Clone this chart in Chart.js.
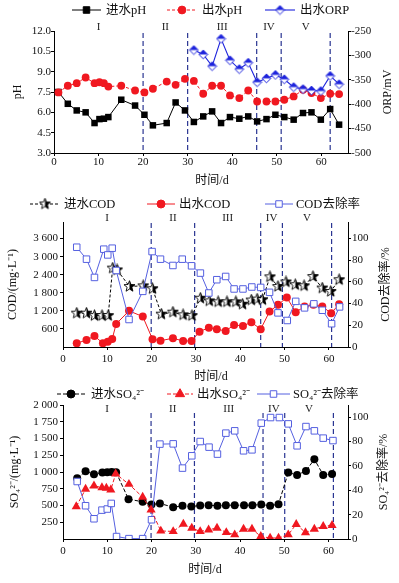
<!DOCTYPE html>
<html>
<head>
<meta charset="utf-8">
<script src="https://cdn.jsdelivr.net/npm/chart.js@4.4.0/dist/chart.umd.min.js"></script>
<style>
  body { margin:0; background:#fff; width:399px; height:583px; overflow:hidden; position:relative; }
  .box { position:absolute; left:0; width:399px; }
</style>
</head>
<body>
<div class="box" style="top:0;height:190px"><canvas id="chartPH"></canvas></div>
<div class="box" style="top:190px;height:195px"><canvas id="chartCOD"></canvas></div>
<div class="box" style="top:385px;height:198px"><canvas id="chartSO4"></canvas></div>
<script>
// ── data: pH / ORP ──
const phDays  = [1,3.1,5.1,7.1,9.1,10.2,11.2,12.2,15.1,18.2,20.3,22.2,25.3,27.3,29.4,31.4,33.5,35.5,37.5,39.5,41.6,43.6,45.6,47.7,49.7,51.7,53.8,55.9,57.8,59.9,62,64];
const inPH    = [7.5,6.63,6.14,6.0,5.21,5.5,5.53,5.65,6.93,6.5,5.82,5.04,5.21,6.73,6.14,5.29,5.7,6.07,5.21,5.65,5.53,5.7,5.33,5.5,5.82,5.65,5.46,5.95,6.0,5.46,6.24,5.09];
const outPH   = [7.47,7.96,8.15,8.57,8.15,8.22,8.15,7.9,7.96,7.61,7.47,7.74,8.27,8.03,8.47,8.32,7.37,7.96,7.96,7.25,7.05,7.61,6.8,6.8,6.8,6.93,7.17,7.66,7.42,7.05,7.37,7.35];
const orpDays = [31.4,33.5,35.5,37.5,39.5,41.6,43.6,45.6,47.7,49.7,51.7,53.8,55.9,57.8,59.9,62,64];
const outORP  = [-289,-298,-322,-266,-310,-328,-315,-355,-347,-340,-349,-365,-369,-372,-373,-342,-359];
const phTicks  = [3,4.5,6,7.5,9,10.5,12];
const orpTicks = [-500,-450,-400,-350,-300,-250];

// ── data: COD ──
const codInDays  = [3.1,5.3,7.1,8.8,10.2,11.2,12.2,15,18.1,20.2,22.2,24.8,27.1,29.1,31,33,35,37,39,40.5,42.5,43.8,45,46.7,48.5,50.3,52.4,54.4,56.4,58.5,60.4,62.3];
const codIn      = [1123,1123,1043,1043,1043,2620,2560,2010,2030,1935,1090,1157,1067,1043,1620,1530,1500,1500,1500,1420,1560,1590,1570,2330,2010,2160,2067,2033,2340,1957,1843,2233];
const codOutDays = [3.1,5.3,7.1,9.0,10.1,11.1,12.0,14.9,18.0,20.2,22.0,24.8,27.1,29.0,30.8,32.9,34.7,36.7,38.6,40.6,42.5,44.6,46.6,48.5,50.5,52.5,54.5,56.5,58.5,60.5,62.3];
const codOut     = [123,233,367,123,177,267,767,1200,1010,257,210,290,200,200,510,643,590,533,733,700,823,590,1177,1400,1643,1157,1343,1400,1343,1123,1423];
const codRmDays  = [3.1,5.3,7.1,9.2,10.1,11.1,12.0,14.9,18.0,20.1,22.0,24.8,26.9,29.0,31.0,32.9,34.7,36.7,38.6,40.6,42.6,44.6,46.6,48.5,50.6,52.5,54.5,56.6,58.5,60.6,62.4];
const codRemoval = [91.8,80.8,64,90,84.7,90.9,70.4,25.3,51.2,87.8,80.8,75,80.8,74.7,68,49.7,61.9,64.9,53.4,53.4,55.2,54.8,50.3,31.4,24.4,42,36,39.7,33.8,21.4,36.9];
const codTicks   = [600,1200,1800,2400,3000,3600];
const pctTicks   = [0,20,40,60,80,100];

// ── data: SO4 ──
const soInDays   = [3.2,5.1,7.0,8.9,10.0,11.0,12.0,14.8,18.0,20.0,21.9,24.9,27.0,29.0,31.0,32.9,34.9,36.8,38.8,40.9,42.8,44.8,46.8,48.7,50.9,52.9,54.9,56.8,58.8,60.8];
const soIn       = [905,1010,967,991,995,1000,995,595,555,515,530,475,495,485,500,505,495,505,505,505,505,515,495,520,991,957,1016,1190,957,972];
const soOutDays  = [3.0,5.1,7.0,8.8,9.8,10.8,11.9,14.9,18.0,19.9,22.1,24.9,27.2,29.1,31.0,32.9,34.8,36.9,38.8,40.8,42.7,44.7,46.8,48.7,50.9,52.7,54.8,56.8,58.8,60.8];
const soOut      = [485,744,793,768,759,734,972,818,625,436,120,113,223,164,113,138,164,98,64,149,149,39,15,15,64,220,95,149,188,205];
const soRmDays   = [3.2,5.1,7.0,8.8,10.0,10.9,12.1,14.9,18.0,20.0,21.9,24.9,27.0,29.1,31.0,33.0,34.9,36.8,38.8,40.8,42.7,44.8,46.9,48.9,50.9,52.9,54.9,56.8,58.8,61.0];
const soRemoval  = [47.2,27.3,16.6,23.7,24.6,29.2,2,0.3,0.3,15.8,77.9,78.1,58.2,68.3,80,75.4,69.7,86.9,88.8,72.4,73.2,95.1,99.7,99.7,94.5,76.5,92.3,88.8,82.8,80.8];
const soTicks    = [250,500,750,1000,1250,1500,1750,2000];

// shared
const dayTicks   = [0,10,20,30,40,50,60];
const stageNames = ['I','II','III','IV','V'];

const FONT  = '"Liberation Serif","Noto Sans CJK SC",serif';
const RED   = '#f01820', BLUE = '#1c22dc', LBLUE = '#5560e0', NAVY = '#2a3592';

// ── custom markers ──
function makeMarker(size, draw) {
  const c = document.createElement('canvas');
  c.width = c.height = size;
  draw(c.getContext('2d'), size / 2, size);
  return c;
}
const halfDiamond = makeMarker(11, (g, m, s) => {
  const r = 4.4;
  g.beginPath(); g.moveTo(m, m - r); g.lineTo(m + r, m); g.lineTo(m, m + r); g.lineTo(m - r, m); g.closePath();
  g.fillStyle = '#fff'; g.fill();
  g.save(); g.clip(); g.fillStyle = BLUE; g.fillRect(0, 0, s, m); g.restore();
  g.strokeStyle = BLUE; g.lineWidth = 1; g.stroke();
});
const halfStar = makeMarker(13, (g, m, s) => {
  g.beginPath();
  for (let i = 0; i < 10; i++) {
    const r = i % 2 ? 2.5 : 5.8, a = -Math.PI / 2 + i * Math.PI / 5;
    g.lineTo(m + r * Math.cos(a), m + r * Math.sin(a));
  }
  g.closePath();
  g.fillStyle = '#fff'; g.fill();
  g.save(); g.clip(); g.fillStyle = '#000'; g.fillRect(m, 0, m, s); g.restore();
  g.strokeStyle = '#000'; g.lineWidth = 0.9; g.stroke();
});

const pts = (xs, ys) => xs.map((x, i) => ({x, y: ys[i]}));
const spaced = v => v >= 1000 ? String(v).replace(/(\d)(\d{3})$/, '$1 $2') : v;

function axisX(max, height, pad) {
  return {
    type:'linear', min:0, max,
    afterBuildTicks: s => { s.ticks = dayTicks.map(v => ({value:v})); },
    afterFit: s => { s.height = height; },
    ticks:{ color:'#111', padding:pad, maxRotation:0, font:{family:FONT, size:11} },
    grid:{ drawOnChartArea:false, tickLength:3, color:'#000' },
    border:{ color:'#000', width:1 }
  };
}
function axisY(pos, min, max, ticks, fmt, width, pad) {
  return {
    type:'linear', position:pos, min, max,
    afterBuildTicks: s => { s.ticks = ticks.map(v => ({value:v})); },
    afterFit: s => { s.width = width; },
    ticks:{ color:'#111', padding:pad, font:{family:FONT, size:11}, callback:fmt },
    grid:{ drawOnChartArea:false, tickLength:3, color:'#000' },
    border:{ color:'#000', width:1 }
  };
}

// stage lines, stage names, legend and axis titles
const decor = {
  id:'decor',
  beforeDatasetsDraw(chart, args, o) {
    const x = chart.scales.x, a = chart.chartArea, g = chart.ctx;
    g.save();
    g.strokeStyle = NAVY; g.lineWidth = 1.2; g.setLineDash([5, 3]);
    o.stages.forEach(d => {
      const px = x.getPixelForValue(d);
      g.beginPath(); g.moveTo(px, a.top + o.stageGap); g.lineTo(px, a.bottom); g.stroke();
    });
    g.restore();
  },
  afterDraw(chart, args, o) {
    const x = chart.scales.x, a = chart.chartArea, g = chart.ctx;
    g.save();
    g.textBaseline = 'middle';
    g.font = '11px ' + FONT; g.fillStyle = '#222'; g.textAlign = 'center';
    stageNames.forEach((n, i) => {
      const from = i ? o.stages[i - 1] : 0;
      g.fillText(n, x.getPixelForValue((from + o.stages[i]) / 2), o.romanY);
    });

    g.font = '12.5px ' + FONT; g.textAlign = 'left';
    o.legend.forEach(([x1, x2, tx], i) => {
      const ds = chart.data.datasets[i];
      g.strokeStyle = ds.borderColor; g.lineWidth = ds.borderWidth;
      g.setLineDash(ds.borderDash || []);
      g.beginPath(); g.moveTo(x1, o.legendY); g.lineTo(x2, o.legendY); g.stroke();
      g.setLineDash([]);
      g.fillStyle = ds.pointBackgroundColor; g.lineWidth = 1;
      Chart.helpers.drawPoint(g, {pointStyle:ds.pointStyle, radius:ds.pointRadius, borderWidth:1, rotation:0}, (x1 + x2) / 2, o.legendY);
      g.fillStyle = '#111';
      g.fillText(ds.label, tx, o.legendY + 1);
    });

    g.font = '12px ' + FONT; g.textAlign = 'center'; g.fillStyle = '#111';
    const cy = (a.top + a.bottom) / 2;
    [[o.leftTitle, o.leftX], [o.rightTitle, o.rightX]].forEach(([t, tx]) => {
      g.save(); g.translate(tx, cy); g.rotate(-Math.PI / 2); g.fillText(t, 0, 0); g.restore();
    });
    g.fillText('时间/d', o.xTitle[0], o.xTitle[1]);
    g.restore();
  }
};

function build(id, datasets, scales, top, deco) {
  return new Chart(document.getElementById(id), {
    type:'line',
    data:{ datasets },
    options:{
      responsive:true, maintainAspectRatio:false, animation:false, devicePixelRatio:1,
      layout:{ padding:{ top, left:0, right:0, bottom:0 } },
      plugins:{ legend:{display:false}, tooltip:{enabled:false}, decor:deco },
      scales
    },
    plugins:[decor]
  });
}

// ── pH / ORP ──
build('chartPH', [
  {label:'进水pH', data:pts(phDays, inPH), yAxisID:'y', borderColor:'#000', backgroundColor:'#000', pointBackgroundColor:'#000',
   borderWidth:1, pointStyle:'rect', pointRadius:4.6, pointBorderWidth:0, order:3},
  {label:'出水pH', data:pts(phDays, outPH), yAxisID:'y', borderColor:RED, backgroundColor:RED, pointBackgroundColor:RED,
   borderWidth:1, borderDash:[3,2], pointStyle:'circle', pointRadius:3.9, pointBorderWidth:0, order:2},
  {label:'出水ORP', data:pts(orpDays, outORP), yAxisID:'y2', borderColor:BLUE, backgroundColor:BLUE, pointBackgroundColor:'#fff',
   borderWidth:1.1, pointStyle:halfDiamond, pointRadius:4.4, order:1}
], {
  x: axisX(66, 37, 0),
  y: axisY('left', 3, 12, phTicks, v => v.toFixed(1), 54, 0),
  y2: axisY('right', -500, -250, orpTicks, v => v, 51, 0)
}, 31, {
  stages:[20,30,45.5,51,62], stageGap:2, romanY:27, legendY:10,
  legend:[[72,101,106],[167,197,202],[265,295,300]],
  leftTitle:'pH', leftX:18, rightTitle:'ORP/mV', rightX:388, xTitle:[212,181]
});

// ── COD ──
build('chartCOD', [
  {label:'进水COD', data:pts(codInDays, codIn), yAxisID:'y', borderColor:'#000', backgroundColor:'#000', pointBackgroundColor:'#fff',
   borderWidth:1, borderDash:[3,2], pointStyle:halfStar, pointRadius:5, order:3},
  {label:'出水COD', data:pts(codOutDays, codOut), yAxisID:'y', borderColor:RED, backgroundColor:RED, pointBackgroundColor:RED,
   borderWidth:1, pointStyle:'circle', pointRadius:4, pointBorderWidth:0, order:2},
  {label:'COD去除率', data:pts(codRmDays, codRemoval), yAxisID:'y2', borderColor:LBLUE, backgroundColor:'#fff', pointBackgroundColor:'#fff',
   borderWidth:1, pointStyle:'rect', pointRadius:4.6, pointBorderWidth:1, order:1}
], {
  x: axisX(64.3, 38, 3),
  y: axisY('left', 0, 4150, codTicks, spaced, 63, 2),
  y2: axisY('right', 0, 115, pctTicks, v => v, 51, 1)
}, 32, {
  stages:[19.9,29.7,44.6,49.5,60.6], stageGap:1, romanY:28, legendY:14,
  legend:[[30,60,64],[147,175,179],[265,293,296]],
  leftTitle:'COD/(mg·L⁻¹)', leftX:13, rightTitle:'COD去除率/%', rightX:386, xTitle:[211,187]
});

// ── SO4 ──
build('chartSO4', [
  {label:'进水SO₄²⁻', data:pts(soInDays, soIn), yAxisID:'y', borderColor:'#000', backgroundColor:'#000', pointBackgroundColor:'#000',
   borderWidth:1, borderDash:[4,2], pointStyle:'circle', pointRadius:4, pointBorderWidth:0, order:3},
  {label:'出水SO₄²⁻', data:pts(soOutDays, soOut), yAxisID:'y', borderColor:RED, backgroundColor:RED, pointBackgroundColor:RED,
   borderWidth:1, borderDash:[4,2], pointStyle:'triangle', pointRadius:5.3, pointBorderWidth:0, order:1},
  {label:'SO₄²⁻去除率', data:pts(soRmDays, soRemoval), yAxisID:'y2', borderColor:LBLUE, backgroundColor:'#fff', pointBackgroundColor:'#fff',
   borderWidth:1, pointStyle:'rect', pointRadius:4.6, pointBorderWidth:1, order:2}
], {
  x: axisX(64.4, 44, 3),
  y: axisY('left', 0, 2000, soTicks, spaced, 63, 2),
  y2: axisY('right', 0, 110, pctTicks, v => v, 51, 1)
}, 20, {
  stages:[19.9,29.7,45.2,50.1,61.1], stageGap:8, romanY:24, legendY:9,
  legend:[[57,85,91],[167,193,197],[257,290,293]],
  leftTitle:'SO₄²⁻/(mg·L⁻¹)', leftX:15, rightTitle:'SO₄²⁻去除率/%', rightX:384, xTitle:[205,185]
});
</script>
</body>
</html>
